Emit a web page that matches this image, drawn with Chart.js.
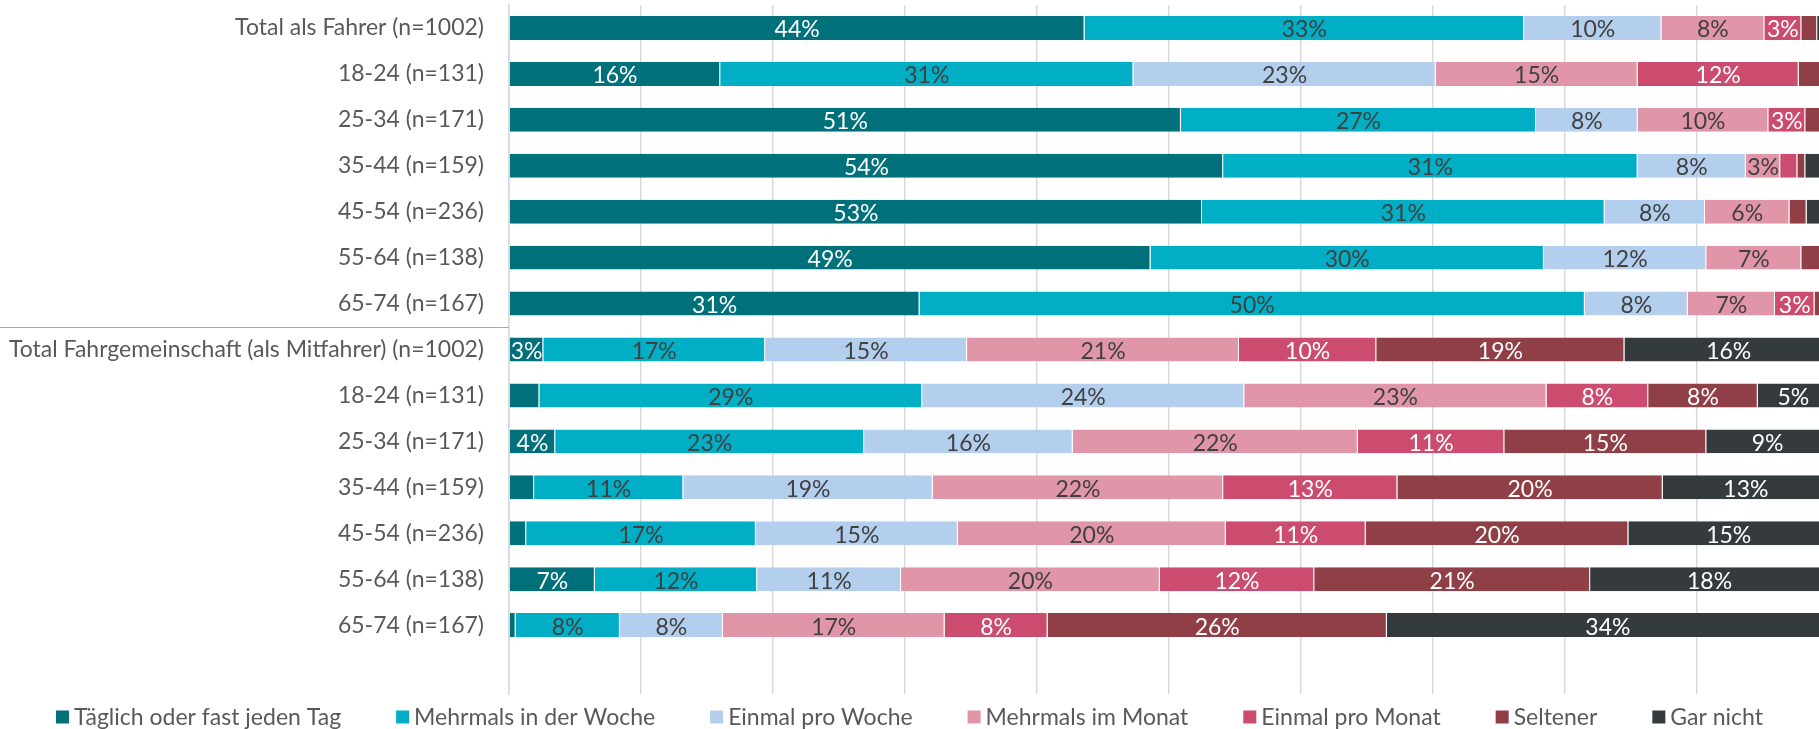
<!DOCTYPE html>
<html>
<head>
<meta charset="utf-8">
<script src="https://cdn.jsdelivr.net/npm/chart.js@4"></script>
<style>
  html, body { margin: 0; padding: 0; background: #fff; overflow: hidden; }
  #wrap { width: 1819px; height: 729px; position: relative; }
</style>
</head>
<body>
<div id="wrap"><canvas id="chart"></canvas></div>
<script>
// Rows (last one is the empty slot Excel leaves under the bars)
const categories = [
  'Total als Fahrer (n=1002)', '18-24 (n=131)', '25-34 (n=171)', '35-44 (n=159)',
  '45-54 (n=236)', '55-64 (n=138)', '65-74 (n=167)',
  'Total Fahrgemeinschaft (als Mitfahrer) (n=1002)', '18-24 (n=131)', '25-34 (n=171)',
  '35-44 (n=159)', '45-54 (n=236)', '55-64 (n=138)', '65-74 (n=167)', ''
];

const seriesNames = [
  'Täglich oder fast jeden Tag', 'Mehrmals in der Woche', 'Einmal pro Woche',
  'Mehrmals im Monat', 'Einmal pro Monat', 'Seltener', 'Gar nicht'
];

// shares in %
const taeglich      = [43.6, 16.0, 50.9, 54.1, 52.5, 48.6, 31.1, 2.6, 2.3, 3.5, 1.9, 1.3, 6.5, 0.5];
const mehrmalsWoche = [33.3, 31.3, 26.9, 31.4, 30.5, 29.8, 50.4, 16.8, 29.0, 23.4, 11.3, 17.4, 12.3, 7.9];
const einmalWoche   = [10.4, 22.9, 7.7, 8.2, 7.6, 12.3, 7.8, 15.3, 24.4, 15.8, 18.9, 15.3, 10.9, 7.8];
const mehrmalsMonat = [7.8, 15.3, 9.9, 2.6, 6.4, 7.2, 6.6, 20.6, 22.9, 21.6, 22.0, 20.3, 19.6, 16.8];
const einmalMonat   = [2.8, 12.2, 2.8, 1.3, 0, 0, 3.0, 10.4, 7.7, 11.1, 13.2, 10.6, 11.7, 7.8];
const seltener      = [1.2, 2.3, 1.8, 0.6, 1.3, 2.1, 1.2, 18.8, 8.3, 15.3, 20.1, 19.9, 20.9, 25.7];
const garNicht      = [0.9, 0, 0, 1.9, 1.6, 0, 0, 15.8, 5.4, 9.3, 12.6, 15.2, 18.1, 33.5];

const xTicks = [0, 10, 20, 30, 40, 50, 60, 70, 80, 90];

const seriesValues = [taeglich, mehrmalsWoche, einmalWoche, mehrmalsMonat, einmalMonat, seltener, garNicht];
const colors = ['#00717B', '#00AEC6', '#B4CFED', '#E195A8', '#CC4C6F', '#913F47', '#353B3D'];
const labelColors = ['#ffffff', '#404040', '#404040', '#404040', '#ffffff', '#ffffff', '#ffffff'];

const FONT = 'Lato';
const SIZE = 23;
const TEXT = '#595959';

// percentage inside each segment (small ones are left blank, like the original)
const segmentLabels = {
  id: 'segmentLabels',
  afterDatasetsDraw(chart) {
    const ctx = chart.ctx;
    ctx.save();
    ctx.font = `${SIZE}px ${FONT}`;
    ctx.textAlign = 'center';
    ctx.textBaseline = 'middle';
    chart.data.datasets.forEach((ds, i) => {
      chart.getDatasetMeta(i).data.forEach((bar, j) => {
        const v = ds.data[j];
        if (v == null || v < 2.5) return;
        ctx.fillStyle = labelColors[i];
        ctx.fillText(Math.round(v) + '%', (bar.x + bar.base) / 2, bar.y + 2);
      });
    });
    ctx.restore();
  }
};

// grey rule splitting the "Fahrer" and "Mitfahrer" blocks
const groupRule = {
  id: 'groupRule',
  afterDraw(chart) {
    const y = chart.scales.y;
    const yy = Math.round((y.getPixelForValue(6) + y.getPixelForValue(7)) / 2) + 0.5;
    const ctx = chart.ctx;
    ctx.save();
    ctx.strokeStyle = '#a6a6a6';
    ctx.lineWidth = 1;
    ctx.beginPath();
    ctx.moveTo(0, yy);
    ctx.lineTo(chart.chartArea.left, yy);
    ctx.stroke();
    ctx.restore();
  }
};

// legend drawn by hand so the box/text gaps match Excel
const bottomLegend = {
  id: 'bottomLegend',
  afterDraw(chart) {
    const ctx = chart.ctx;
    const box = 13, gap = 5, spacing = 55;
    const cy = 717;
    ctx.save();
    ctx.font = `${SIZE}px ${FONT}`;
    ctx.textBaseline = 'middle';
    const widths = chart.data.datasets.map(ds => ctx.measureText(ds.label).width);
    const total = widths.reduce((a, w) => a + box + gap + w, 0) + spacing * (widths.length - 1);
    let x = (chart.width - total) / 2;
    chart.data.datasets.forEach((ds, i) => {
      ctx.fillStyle = ds.backgroundColor;
      ctx.fillRect(x, cy - box / 2, box, box);
      ctx.fillStyle = TEXT;
      ctx.fillText(ds.label, x + box + gap, cy + 1);
      x += box + gap + widths[i] + spacing;
    });
    ctx.restore();
  }
};

const datasets = seriesNames.map((name, i) => ({
  label: name,
  data: seriesValues[i],
  backgroundColor: colors[i],
  borderColor: 'rgba(255,255,255,0.55)',
  borderWidth: { top: 0, bottom: 0, left: 0, right: 1 },
  borderSkipped: false,
  barPercentage: 0.522,
  categoryPercentage: 1
}));

new Chart(document.getElementById('chart'), {
  type: 'bar',
  data: { labels: categories, datasets },
  options: {
    indexAxis: 'y',
    responsive: true,
    maintainAspectRatio: false,
    animation: false,
    layout: { padding: { top: 5, bottom: 35, left: 0, right: 0 } },
    plugins: {
      legend: { display: false },
      tooltip: { enabled: false }
    },
    scales: {
      x: {
        stacked: true,
        min: 0,
        max: 99.24,  // the original is cropped just before 100 %
        afterBuildTicks: (scale) => { scale.ticks = xTicks.map(v => ({ value: v })); },
        ticks: { display: false },
        grid: { color: '#d9d9d9', lineWidth: 1.5, drawTicks: false },
        border: { display: false }
      },
      y: {
        stacked: true,
        afterFit: (scale) => {
          scale.width = 509;
          scale.paddingTop = 0;
          scale.paddingBottom = 0;
        },
        ticks: { color: TEXT, font: { family: FONT, size: SIZE }, padding: 25, autoSkip: false },
        grid: { display: false, drawTicks: false },
        border: { display: true, color: '#d9d9d9', width: 1.5 }
      }
    }
  },
  plugins: [segmentLabels, groupRule, bottomLegend]
});
</script>
</body>
</html>
